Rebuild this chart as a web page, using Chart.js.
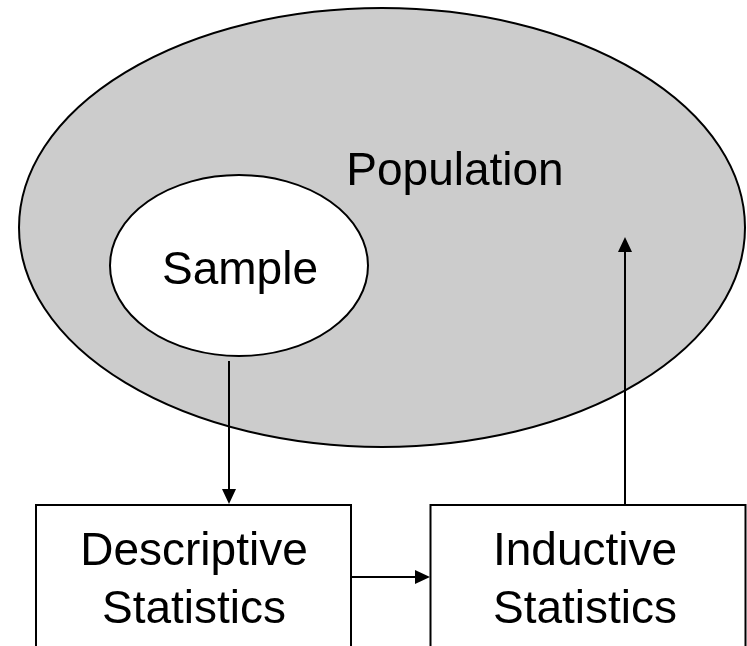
<!DOCTYPE html>
<html>
<head>
<meta charset="utf-8">
<script src="https://cdn.jsdelivr.net/npm/chart.js@4/dist/chart.umd.min.js"></script>
<style>
  html, body { margin: 0; padding: 0; background: #ffffff; }
  canvas { display: block; }
</style>
</head>
<body>
<canvas id="diagram" width="747" height="646"></canvas>
<script>
// diagram coordinates (x to the right, y downward)
const ellipseNames = ["Population", "Sample"]
const ellipseCx = [382, 239]
const ellipseCy = [227.5, 265.5]
const ellipseRx = [363, 129]
const ellipseRy = [219.5, 90.5]

const boxNames = ["Descriptive Statistics", "Inductive Statistics"]
const boxLeft = [36, 430.5]
const boxRight = [351, 745.5]
const boxTop = [505, 505]
const boxBottom = [680, 680]

const arrowFromX = [229, 351, 625]
const arrowFromY = [361, 577, 505]
const arrowToX = [229, 430, 625]
const arrowToY = [504, 577, 237]

const labelLines = [["Population"], ["Sample"], ["Descriptive", "Statistics"], ["Inductive", "Statistics"]]
const labelX = [455, 240, 194, 585]
const labelY = [185, 284, 565, 565]

const diagramPlugin = {
  id: "diagram",
  beforeDatasetsDraw(chart) {
    const { ctx, scales: { x, y } } = chart
    const fills = ["#cccccc", "#ffffff"]
    ellipseNames.forEach((name, i) => {
      const cx = x.getPixelForValue(ellipseCx[i])
      const cy = y.getPixelForValue(ellipseCy[i])
      const rx = Math.abs(x.getPixelForValue(ellipseCx[i] + ellipseRx[i]) - cx)
      const ry = Math.abs(y.getPixelForValue(ellipseCy[i] + ellipseRy[i]) - cy)
      ctx.save()
      ctx.beginPath()
      ctx.ellipse(cx, cy, rx, ry, 0, 0, Math.PI * 2)
      ctx.fillStyle = fills[i]
      ctx.fill()
      ctx.lineWidth = 2
      ctx.strokeStyle = "#000000"
      ctx.stroke()
      ctx.restore()
    })
  },
  afterDatasetsDraw(chart) {
    const { ctx, scales: { x, y } } = chart
    ctx.save()

    // arrow heads
    ctx.fillStyle = "#000000"
    arrowToX.forEach((tx, i) => {
      const px = x.getPixelForValue(tx)
      const py = y.getPixelForValue(arrowToY[i])
      const fx = x.getPixelForValue(arrowFromX[i])
      const fy = y.getPixelForValue(arrowFromY[i])
      const ang = Math.atan2(py - fy, px - fx)
      const len = 15, half = 7
      ctx.beginPath()
      ctx.moveTo(px, py)
      ctx.lineTo(px - len * Math.cos(ang) + half * Math.sin(ang), py - len * Math.sin(ang) - half * Math.cos(ang))
      ctx.lineTo(px - len * Math.cos(ang) - half * Math.sin(ang), py - len * Math.sin(ang) + half * Math.cos(ang))
      ctx.closePath()
      ctx.fill()
    })

    // boxes
    ctx.lineWidth = 2
    ctx.strokeStyle = "#000000"
    boxNames.forEach((name, i) => {
      const l = x.getPixelForValue(boxLeft[i])
      const r = x.getPixelForValue(boxRight[i])
      const t = y.getPixelForValue(boxTop[i])
      const b = y.getPixelForValue(boxBottom[i])
      ctx.strokeRect(l, t, r - l, b - t)
    })

    // labels
    ctx.font = "46px 'Liberation Sans', Arial, sans-serif"
    ctx.textAlign = "center"
    ctx.textBaseline = "alphabetic"
    ctx.fillStyle = "#000000"
    labelLines.forEach((lines, i) => {
      const px = x.getPixelForValue(labelX[i])
      const py = y.getPixelForValue(labelY[i])
      lines.forEach((line, j) => ctx.fillText(line, px, py + j * 58))
    })
    ctx.restore()
  }
}

const arrowSets = arrowFromX.map((fx, i) => ({
  data: [{ x: fx, y: arrowFromY[i] }, { x: arrowToX[i] - Math.sign(arrowToX[i] - fx) * 12, y: arrowToY[i] - Math.sign(arrowToY[i] - arrowFromY[i]) * 12 }],
  showLine: true,
  borderColor: "#000000",
  borderWidth: 2,
  pointRadius: 0
}))

new Chart(document.getElementById("diagram"), {
  type: "scatter",
  data: { datasets: arrowSets },
  options: {
    responsive: false,
    animation: false,
    layout: { padding: 0 },
    plugins: { legend: { display: false }, tooltip: { enabled: false } },
    scales: {
      x: { type: "linear", min: 0, max: 747, display: false },
      y: { type: "linear", min: 0, max: 646, reverse: true, display: false }
    }
  },
  plugins: [diagramPlugin]
})
</script>
</body>
</html>
